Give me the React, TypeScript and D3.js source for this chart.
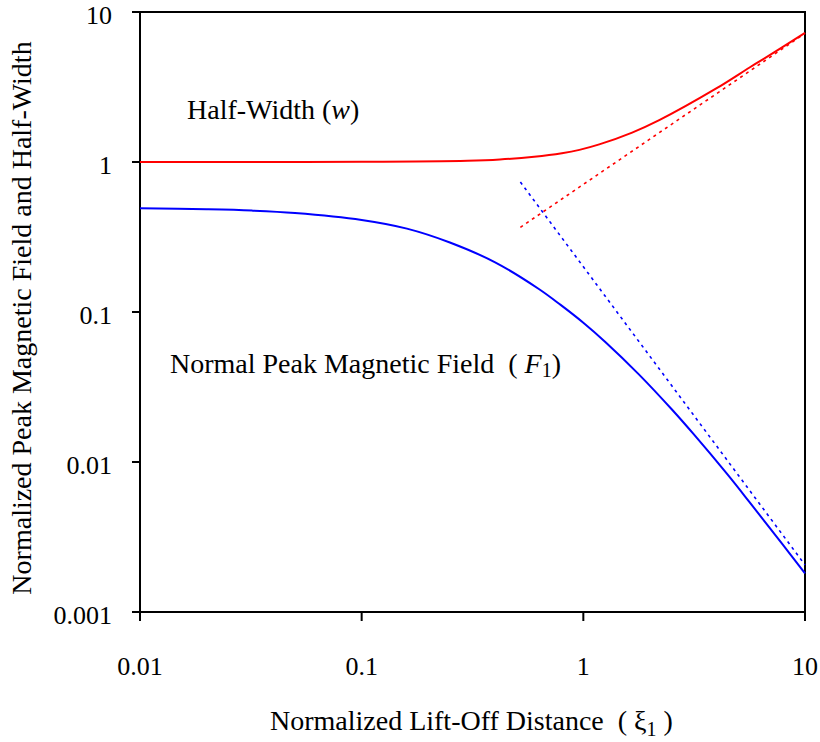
import React from 'react';
import * as d3 from 'd3';

// Tick values and labels
const xTicks = [0.01, 0.1, 1, 10];
const xTickLabels = ['0.01', '0.1', '1', '10'];
const yTicks = [0.001, 0.01, 0.1, 1, 10];
const yTickLabels = ['0.001', '0.01', '0.1', '1', '10'];

// Half-width w (red, solid)
const wXi = [0.01, 0.03, 0.1, 0.3, 0.42, 0.6, 0.8, 0.96, 1.18, 1.66, 2.2, 3.96, 5.6, 6.4, 10];
const wVal = [1.0, 1.0, 1.003, 1.02, 1.04, 1.085, 1.145, 1.205, 1.31, 1.57, 1.9, 3.08, 4.25, 4.8, 7.25];

// Normal peak magnetic field F1 (blue, solid)
const fXi = [0.01, 0.02, 0.032, 0.05, 0.1, 0.16, 0.25, 0.4, 0.63, 0.79, 1, 1.26, 1.78, 2.51, 3.16, 4.47, 5.62, 7.94, 10];
const fVal = [0.491, 0.4835, 0.4742, 0.4571, 0.4108, 0.3597, 0.2907, 0.2143, 0.1424, 0.1115, 0.0848, 0.0629, 0.0384, 0.02238, 0.01521, 0.00826, 0.0054, 0.00281, 0.00181];

// Asymptotes (dotted)
const wAsymXi = [0.52, 10];
const wAsymVal = [0.367, 7.2];
const fAsymXi = [0.52, 10];
const fAsymVal = [0.735, 0.00206];

const W = 820;
const H = 742;
const left = 140;
const right = 805;
const top = 12;
const bottom = 612;
const serif = '"Liberation Serif", "Times New Roman", serif';

export default function App() {
  const x = d3.scaleLog().domain([0.01, 10]).range([left, right]);
  const y = d3.scaleLog().domain([0.001, 10]).range([bottom, top]);

  const line = d3
    .line<[number, number]>()
    .x((d) => x(d[0]))
    .y((d) => y(d[1]))
    .curve(d3.curveCatmullRom.alpha(0.5));
  const straight = d3
    .line<[number, number]>()
    .x((d) => x(d[0]))
    .y((d) => y(d[1]));

  const zip = (a: number[], b: number[]) => a.map((v, i) => [v, b[i]] as [number, number]);

  return (
    <svg
      width={W}
      height={H}
      style={{ position: 'absolute', left: 0, top: 0, background: '#fff' }}
      fontFamily={serif}
    >
      <rect x={0} y={0} width={W} height={H} fill="#fff" />
      {/* frame */}
      <rect x={left} y={top} width={right - left} height={bottom - top} fill="none" stroke="#000" strokeWidth={2} />
      {/* y ticks */}
      {yTicks.map((t, i) => (
        <g key={'y' + i}>
          <line x1={left - 8} x2={left} y1={y(t)} y2={y(t)} stroke="#000" strokeWidth={2} />
          <text x={112} y={y(t) + 12} textAnchor="end" fontSize={26}>
            {yTickLabels[i]}
          </text>
        </g>
      ))}
      {/* x ticks */}
      {xTicks.map((t, i) => (
        <g key={'x' + i}>
          <line x1={x(t)} x2={x(t)} y1={bottom} y2={bottom + 9} stroke="#000" strokeWidth={2} />
          <text x={x(t)} y={675} textAnchor="middle" fontSize={26}>
            {xTickLabels[i]}
          </text>
        </g>
      ))}

      {/* curves */}
      <path d={line(zip(wXi, wVal)) || ''} fill="none" stroke="#ff0000" strokeWidth={2} />
      <path d={line(zip(fXi, fVal)) || ''} fill="none" stroke="#0000ff" strokeWidth={2} />
      <path d={straight(zip(wAsymXi, wAsymVal)) || ''} fill="none" stroke="#ff0000" strokeWidth={1.6} strokeDasharray="3,4" />
      <path d={straight(zip(fAsymXi, fAsymVal)) || ''} fill="none" stroke="#0000ff" strokeWidth={1.6} strokeDasharray="3,4" />

      {/* annotations */}
      <text x={187} y={119} fontSize={28}>
        Half-Width (<tspan fontStyle="italic">w</tspan>)
      </text>
      <text x={170} y={373} fontSize={28} xmlSpace="preserve">
        {'Normal Peak Magnetic Field  ( '}
        <tspan fontStyle="italic">F</tspan>
        <tspan fontSize={20} dy={4}>1</tspan>
        <tspan dy={-4}>)</tspan>
      </text>

      {/* axis titles */}
      <text x={270} y={730} fontSize={28} xmlSpace="preserve">
        {'Normalized Lift-Off Distance  ( ξ'}
        <tspan fontSize={20} dy={6}>1</tspan>
        <tspan dy={-6}>{' )'}</tspan>
      </text>
      <text
        transform={`translate(31, ${318}) rotate(-90)`}
        textAnchor="middle"
        fontSize={28}
      >
        Normalized Peak Magnetic Field and Half-Width
      </text>
    </svg>
  );
}
